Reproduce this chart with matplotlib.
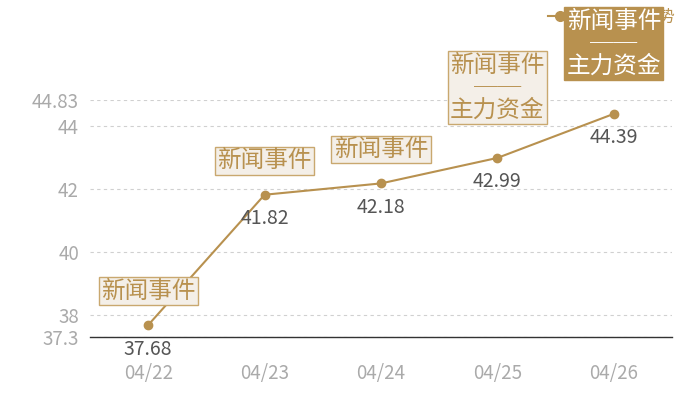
import matplotlib
matplotlib.use("Agg")
import matplotlib.pyplot as plt
from matplotlib.lines import Line2D

plt.rcParams['font.family'] = ['Noto Sans CJK SC', 'DejaVu Sans']

dates = ['04/22', '04/23', '04/24', '04/25', '04/26']
prices = [37.68, 41.82, 42.18, 42.99, 44.39]
events = ['新闻事件', '新闻事件', '新闻事件', '新闻事件\n──\n主力资金', '新闻事件\n──\n主力资金']
yticks = [37.3, 38, 40, 42, 44, 44.83]
series_name = '收盘价格走势'

gold = '#b8914f'
x = list(range(len(dates)))

fig = plt.figure(figsize=(7, 4), dpi=100)
ax = fig.add_axes([90/700, 1-337/400, 582/700, 237/400])

ax.plot(x, prices, color=gold, lw=1.5, marker='o', ms=6, mfc=gold, mec=gold, zorder=3)

for i, v in enumerate(prices):
    ax.annotate(f'{v:.2f}', xy=(i, v), xytext=(0, -24), textcoords='offset pixels',
                ha='center', va='center', fontsize=14, color='#555555', zorder=4)
    last = i == len(prices) - 1
    two = '\n' in events[i]
    ax.annotate(events[i], xy=(i, v), xytext=(0, 70 if two else 34), textcoords='offset pixels',
                ha='center', va='center', fontsize=17, linespacing=0.98,
                color='white' if last else gold, annotation_clip=False, zorder=10,
                bbox=dict(boxstyle='square,pad=0.1',
                          fc=gold if last else '#f4efe8',
                          ec=gold if last else '#c9a86f', lw=1))

ax.set_xlim(-0.5, 4.5)
ax.set_ylim(37.3, 44.83)
ax.set_xticks(x)
ax.set_xticklabels(dates)
ax.set_yticks(yticks)
ax.set_yticklabels([f'{t:g}' for t in yticks])
ax.tick_params(axis='both', length=0, labelsize=13.5, colors='#aaaaaa')
ax.tick_params(axis='x', pad=19)
ax.tick_params(axis='y', pad=8)
ax.grid(axis='y', color='#d0d0d0', ls=(0, (3, 3)), lw=0.8)
ax.set_axisbelow(True)
for s in ['top', 'right', 'left']:
    ax.spines[s].set_visible(False)
ax.spines['bottom'].set_color('#333333')
ax.spines['bottom'].set_linewidth(1)

h = Line2D([], [], color=gold, lw=1.5, marker='o', ms=7, mfc=gold)
leg = ax.legend([h], [series_name], loc='center left', bbox_to_anchor=(548/700, 1-17/400),
                bbox_transform=fig.transFigure, frameon=False, fontsize=12,
                handlelength=1.4, handletextpad=0.3, borderpad=0, borderaxespad=0)
for t in leg.get_texts():
    t.set_color(gold)

fig.savefig('out.png', dpi=100)
